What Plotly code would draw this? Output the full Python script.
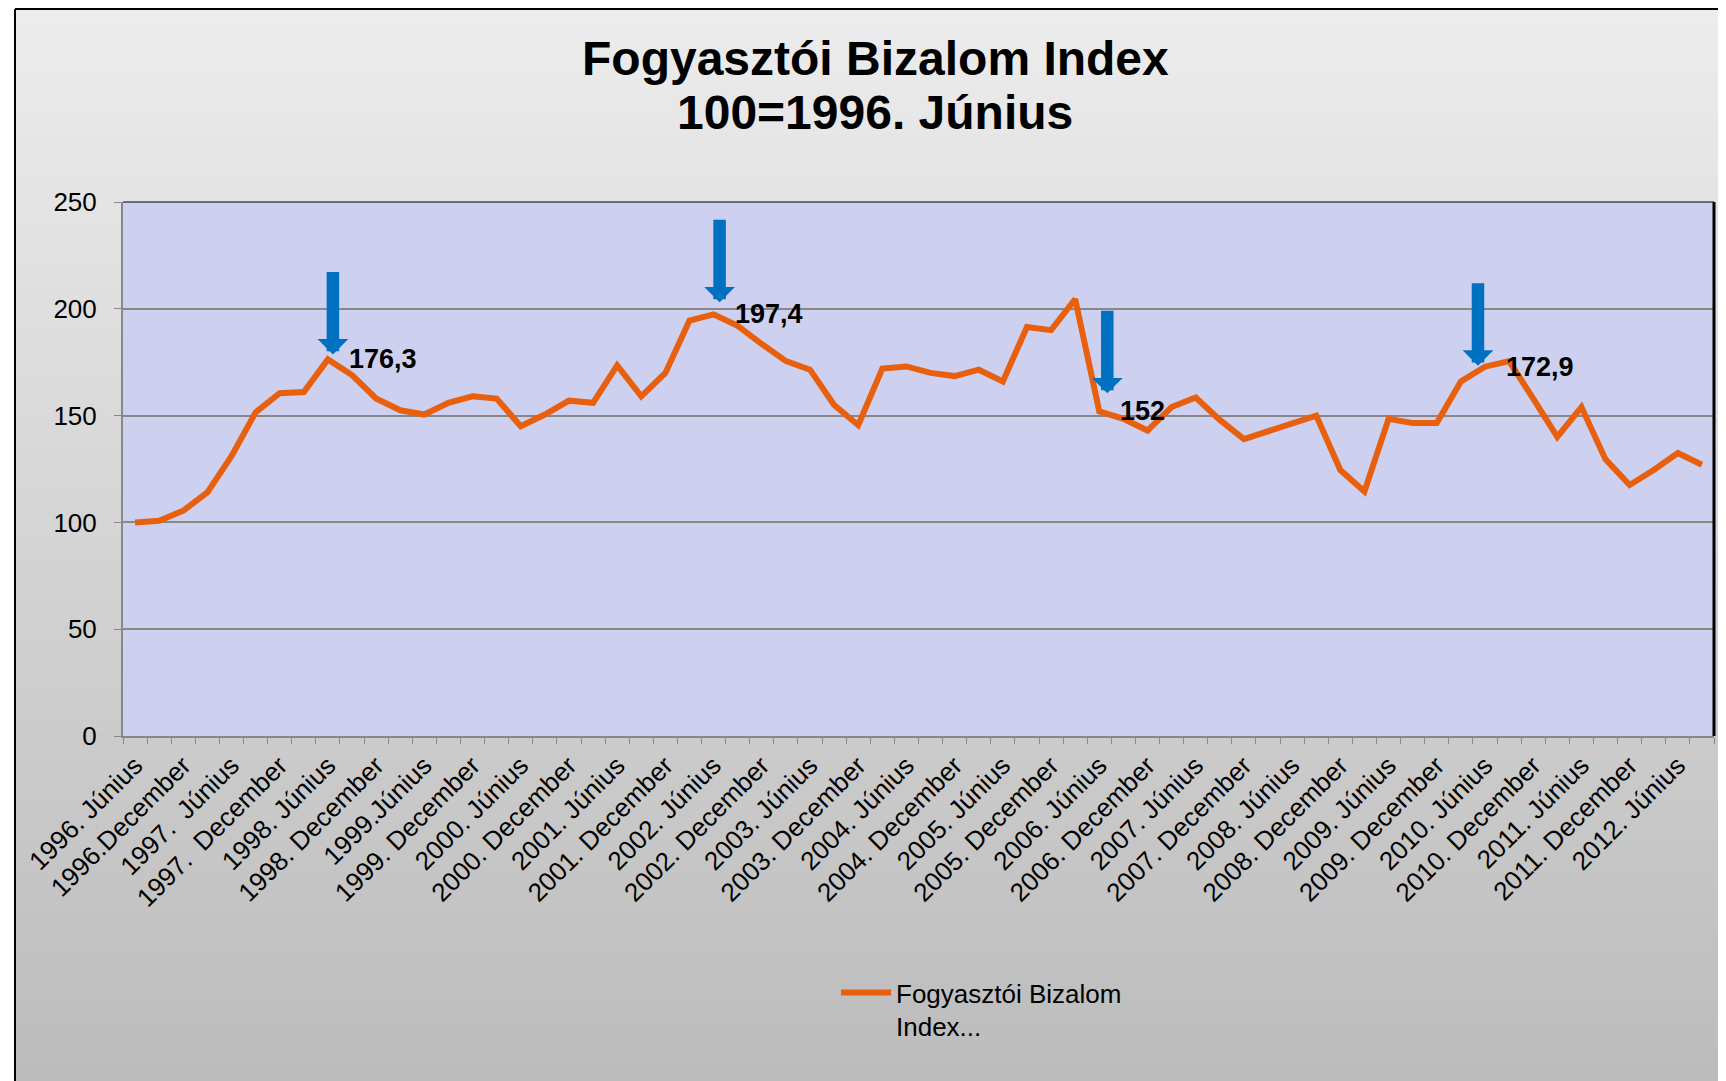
import plotly.graph_objects as go

# negyedéves adatok, 1996. június = 100
kategoriak = [
    '1996. Június', '1996. Szeptember', '1996. December', '1997. Március',
    '1997. Június', '1997. Szeptember', '1997. December', '1998. Március',
    '1998. Június', '1998. Szeptember', '1998. December', '1999. Március',
    '1999. Június', '1999. Szeptember', '1999. December', '2000. Március',
    '2000. Június', '2000. Szeptember', '2000. December', '2001. Március',
    '2001. Június', '2001. Szeptember', '2001. December', '2002. Március',
    '2002. Június', '2002. Szeptember', '2002. December', '2003. Március',
    '2003. Június', '2003. Szeptember', '2003. December', '2004. Március',
    '2004. Június', '2004. Szeptember', '2004. December', '2005. Március',
    '2005. Június', '2005. Szeptember', '2005. December', '2006. Március',
    '2006. Június', '2006. Szeptember', '2006. December', '2007. Március',
    '2007. Június', '2007. Szeptember', '2007. December', '2008. Március',
    '2008. Június', '2008. Szeptember', '2008. December', '2009. Március',
    '2009. Június', '2009. Szeptember', '2009. December', '2010. Március',
    '2010. Június', '2010. Szeptember', '2010. December', '2011. Március',
    '2011. Június', '2011. Szeptember', '2011. December', '2012. Március',
    '2012. Június', '2012. Szeptember',
]

tick_feliratok = [
    '1996. Június', '1996.December', '1997.  Június', '1997.  December',
    '1998. Június', '1998. December', '1999.Június', '1999. December',
    '2000. Június', '2000. December', '2001. Június', '2001. December',
    '2002. Június', '2002. December', '2003. Június', '2003. December',
    '2004. Június', '2004. December', '2005. Június', '2005. December',
    '2006. Június', '2006. December', '2007. Június', '2007. December',
    '2008. Június', '2008. December', '2009. Június', '2009. December',
    '2010. Június', '2010. December', '2011. Június', '2011. December',
    '2012. Június',
]

ertekek = [
    100, 100.8, 105.5, 114, 131, 151.5, 160.5, 161,
    176.3, 169, 158, 152.5, 150.5, 156, 159, 158,
    145, 150.5, 157, 156, 173.5, 159, 170, 194.5,
    197.4, 192, 183.5, 175.5, 171.5, 155, 145.5, 172,
    173, 170, 168.5, 171.5, 166, 191.5, 190, 204.5,
    152, 148.5, 143, 154, 158.5, 148, 139, 142.5,
    146.5, 150, 124.5, 114.5, 148.5, 146.5, 146.5, 166,
    172.9, 175.5, 158, 140, 154, 129.5, 117.5, 124.5,
    132.5, 127,
]

kiemelt_idx = [8, 24, 40, 56]
kiemelt_felirat = ['176,3', '197,4', '152', '172,9']
nyil_eltolas = [(5, 5), (6, 12), (8, 18), (-7, 1)]

cim_sorok = ['Fogyasztói Bizalom Index', '100=1996. Június']

# a böngésző body margója 8 px, ezért a képernyő-koordinátákból levonjuk
OFF = 8
SW, SH = 1726, 1081
W, H = SW - OFF, SH - OFF
PL, PR, PT, PB = 123, 1714, 202, 736  # plot terület a képernyőn
L, T = PL - OFF, PT - OFF
R, B = W - (PR - OFF), H - (PB - OFF)
pw, ph = PR - PL, PB - PT


def px_x(x):
    return (x - PL) / pw


def px_y(y):
    return (PB - y) / ph


fig = go.Figure()
fig.add_trace(go.Scatter(
    x=kategoriak, y=ertekek, mode='lines',
    name='Fogyasztói Bizalom<br>Index...',
    line=dict(color='#e8600e', width=6),
))

# háttér: szürke színátmenet, fekete kerettel
shapes = []
n = 120
top, left = 9, 15
for k in range(n):
    y0 = top + (SH - top) * k / n
    y1 = top + (SH - top) * (k + 1) / n + 1
    t = k / (n - 1)
    c = int(round(236 - t * 48))
    shapes.append(dict(type='rect', xref='paper', yref='paper', layer='below',
                       x0=px_x(left), x1=px_x(SW), y0=px_y(y1), y1=px_y(y0),
                       line=dict(width=0), fillcolor=f'rgb({c},{c},{c})'))
shapes.append(dict(type='line', xref='paper', yref='paper', layer='below',
                   x0=px_x(left), x1=px_x(left), y0=px_y(top), y1=px_y(SH),
                   line=dict(color='black', width=2)))
shapes.append(dict(type='line', xref='paper', yref='paper', layer='below',
                   x0=px_x(left), x1=px_x(SW), y0=px_y(top), y1=px_y(top),
                   line=dict(color='black', width=2)))
shapes.append(dict(type='rect', xref='paper', yref='paper', layer='below',
                   x0=0, x1=1, y0=0, y1=1, line=dict(width=0), fillcolor='#cdd0ee'))
# plot terület felső és jobb kerete
shapes.append(dict(type='line', xref='paper', yref='paper', x0=0, x1=1, y0=1, y1=1,
                   line=dict(color='black', width=1)))
shapes.append(dict(type='line', xref='paper', yref='paper', x0=1, x1=1, y0=0, y1=1,
                   line=dict(color='black', width=3)))

annotations = []
for sor, yc in zip(cim_sorok, [58, 113]):
    annotations.append(dict(
        xref='paper', yref='paper', x=px_x(875), y=px_y(yc), text=sor,
        showarrow=False, xanchor='center', yanchor='middle',
        font=dict(size=48, weight='bold', color='black'),
    ))

for idx, felirat, (dx, dy) in zip(kiemelt_idx, kiemelt_felirat, nyil_eltolas):
    annotations.append(dict(
        x=kategoriak[idx], y=ertekek[idx], text='', showarrow=True,
        ax=0, ay=-84, xshift=dx, yshift=dy,
        arrowhead=1, arrowsize=0.41, arrowwidth=12.5, arrowcolor='#0070c0',
    ))
    annotations.append(dict(
        x=kategoriak[idx], y=ertekek[idx], text='<b>' + felirat + '</b>',
        showarrow=False, xanchor='left', yanchor='middle', xshift=19,
        font=dict(size=27, color='black'),
    ))

ticktext = []
for i in range(len(kategoriak)):
    ticktext.append(tick_feliratok[i // 2] if i % 2 == 0 else '')

fig.update_layout(
    width=W, height=H, autosize=False,
    margin=dict(l=L, r=R, t=T, b=B),
    paper_bgcolor='white', plot_bgcolor='#cdd0ee',
    font=dict(family='Liberation Sans, Arial', size=26, color='black'),
    shapes=shapes, annotations=annotations,
    showlegend=True,
    legend=dict(x=px_x(836), y=px_y(969), xanchor='left', yanchor='top',
                bgcolor='rgba(0,0,0,0)', font=dict(size=26), valign='top',
                itemwidth=50),
)
fig.update_xaxes(type='category', range=[-0.5, len(kategoriak) - 0.5],
                 tickmode='array', tickvals=kategoriak, ticktext=ticktext,
                 tickangle=-45, tickson='boundaries', ticks='outside', ticklen=6,
                 tickcolor='#888888', showline=True, linecolor='#888888', linewidth=2,
                 showgrid=False, ticklabelstandoff=2, tickfont=dict(size=26))
fig.update_yaxes(range=[0, 250], dtick=50, ticks='outside', ticklen=7,
                 tickcolor='#888888', showline=True, linecolor='#888888', linewidth=2,
                 showgrid=True, gridcolor='#888888', gridwidth=1.5, zeroline=False,
                 ticklabelstandoff=12, tickfont=dict(size=26))

fig.write_html('out.html')
